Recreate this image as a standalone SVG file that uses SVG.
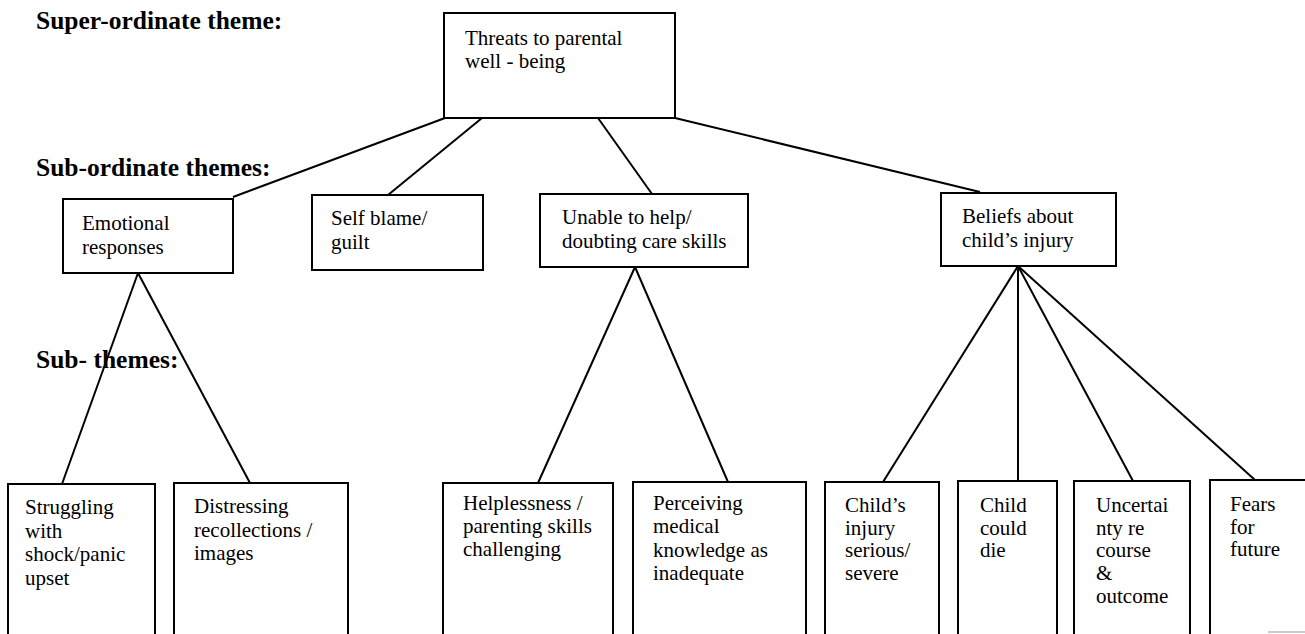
<svg xmlns="http://www.w3.org/2000/svg" width="1305" height="634" viewBox="0 0 1305 634">
<style>
.box{fill:#fff;stroke:#000;stroke-width:2}
.t{font-family:"Liberation Serif","Times New Roman",serif;font-size:21px;fill:#000}
.lbl{font-family:"Liberation Serif","Times New Roman",serif;font-size:25.5px;font-weight:bold;fill:#000}
.c line{stroke:#000;stroke-width:2}
</style>
<rect width="1305" height="634" fill="#fff"/>
<g id="labels">
<text class="lbl" x="36" y="29">Super-ordinate theme:</text>
<text class="lbl" x="36" y="176">Sub-ordinate themes:</text>
<text class="lbl" x="36" y="368">Sub- themes:</text>
</g>
<g id="connectors" class="c">
<line x1="445" y1="118" x2="233" y2="197"/>
<line x1="482" y1="118" x2="388" y2="195"/>
<line x1="598" y1="118" x2="652" y2="194"/>
<line x1="675" y1="118" x2="980" y2="192"/>
<line x1="138" y1="273" x2="62" y2="484"/>
<line x1="138" y1="273" x2="250" y2="483"/>
<line x1="635" y1="267" x2="538" y2="483"/>
<line x1="635" y1="267" x2="728" y2="482"/>
<line x1="1018" y1="266" x2="883" y2="482"/>
<line x1="1018" y1="266" x2="1018" y2="481"/>
<line x1="1018" y1="266" x2="1133" y2="481"/>
<line x1="1018" y1="266" x2="1255" y2="480"/>
</g>
<g id="n-threats">
<rect class="box" x="444" y="13" width="231" height="105"/>
<text class="t" x="465" y="45">Threats to parental</text>
<text class="t" x="465" y="68">well - being</text>
</g>
<g id="n-emotional">
<rect class="box" x="63" y="199" width="170" height="74"/>
<text class="t" x="82" y="230">Emotional</text>
<text class="t" x="82" y="254">responses</text>
</g>
<g id="n-selfblame">
<rect class="box" x="312" y="195" width="171" height="75"/>
<text class="t" x="331" y="225">Self blame/</text>
<text class="t" x="331" y="249">guilt</text>
</g>
<g id="n-unable">
<rect class="box" x="540" y="194" width="208" height="73"/>
<text class="t" x="562" y="224">Unable to help/</text>
<text class="t" x="562" y="248">doubting care skills</text>
</g>
<g id="n-beliefs">
<rect class="box" x="941" y="193" width="175" height="73"/>
<text class="t" x="962" y="223">Beliefs about</text>
<text class="t" x="962" y="247">child’s injury</text>
</g>
<g id="n-struggling">
<rect class="box" x="8" y="484" width="147" height="180"/>
<text class="t" x="25" y="514">Struggling</text>
<text class="t" x="25" y="538">with</text>
<text class="t" x="25" y="561">shock/panic</text>
<text class="t" x="25" y="585">upset</text>
</g>
<g id="n-distressing">
<rect class="box" x="174" y="483" width="174" height="180"/>
<text class="t" x="194" y="513">Distressing</text>
<text class="t" x="194" y="537">recollections /</text>
<text class="t" x="194" y="560">images</text>
</g>
<g id="n-helplessness">
<rect class="box" x="443" y="483" width="170" height="180"/>
<text class="t" x="463" y="510">Helplessness /</text>
<text class="t" x="463" y="533">parenting skills</text>
<text class="t" x="463" y="556">challenging</text>
</g>
<g id="n-perceiving">
<rect class="box" x="633" y="482" width="173" height="180"/>
<text class="t" x="653" y="510">Perceiving</text>
<text class="t" x="653" y="533">medical</text>
<text class="t" x="653" y="557">knowledge as</text>
<text class="t" x="653" y="580">inadequate</text>
</g>
<g id="n-serious">
<rect class="box" x="825" y="482" width="114" height="180"/>
<text class="t" x="845" y="512">Child’s</text>
<text class="t" x="845" y="535">injury</text>
<text class="t" x="845" y="557">serious/</text>
<text class="t" x="845" y="580">severe</text>
</g>
<g id="n-die">
<rect class="box" x="958" y="481" width="99" height="180"/>
<text class="t" x="980" y="512">Child</text>
<text class="t" x="980" y="535">could</text>
<text class="t" x="980" y="557">die</text>
</g>
<g id="n-uncertainty">
<rect class="box" x="1074" y="481" width="116" height="180"/>
<text class="t" x="1096" y="512">Uncertai</text>
<text class="t" x="1096" y="535">nty  re</text>
<text class="t" x="1096" y="557">course</text>
<text class="t" x="1096" y="580">&amp;</text>
<text class="t" x="1096" y="603">outcome</text>
</g>
<g id="n-fears">
<rect class="box" x="1210" y="480" width="110" height="180"/>
<text class="t" x="1230" y="511">Fears</text>
<text class="t" x="1230" y="534">for</text>
<text class="t" x="1230" y="556">future</text>
</g>
<line x1="1268" y1="632" x2="1305" y2="632" stroke="#bbb" stroke-width="1.5"/>
</svg>
